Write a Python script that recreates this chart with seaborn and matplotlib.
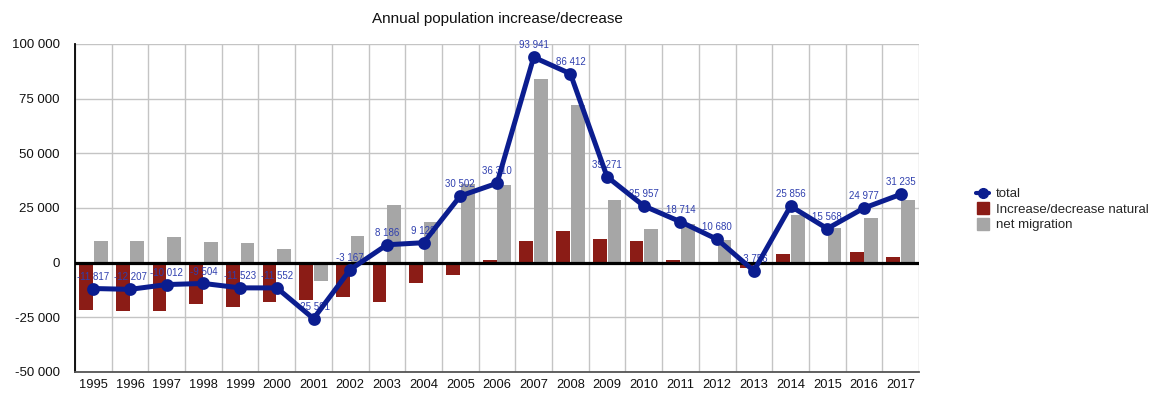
import numpy as np
import pandas as pd
import matplotlib
matplotlib.use("Agg")
import matplotlib.pyplot as plt
from matplotlib.ticker import FixedLocator, FuncFormatter
from matplotlib.lines import Line2D
import seaborn as sns

# Annual figures
years = [str(y) for y in range(1995, 2018)]
total = [-11817, -12207, -10012, -9504, -11523, -11552, -25591, -3167, 8186, 9128,
         30502, 36310, 93941, 86412, 39271, 25957, 18714, 10680, -3756, 25856,
         15568, 24977, 31235]
natural = [-21800, -22300, -21900, -19100, -20500, -17900, -17000, -15600, -18000, -9500,
           -5500, 1000, 9900, 14300, 10700, 9900, 1000, 200, -2600, 4000,
           -400, 4700, 2700]
migration = [10000, 10100, 11900, 9600, 9000, 6300, -8600, 12400, 26200, 18600,
             36000, 35300, 84000, 72100, 28500, 15400, 17700, 10500, -1200, 21800,
             16000, 20300, 28500]

series_names = ["Increase/decrease natural", "net migration"]
title = "Annual population increase/decrease"

NAVY = "#0b1d8f"
LABEL_BLUE = "#2f3fae"
RED = "#8b1c16"
GREY = "#a6a6a6"

sns.set_theme(style="white")
plt.rcParams["font.family"] = ["Liberation Sans", "DejaVu Sans"]

bars = pd.DataFrame({
    "year": years * 2,
    "value": natural + migration,
    "component": [series_names[0]] * len(years) + [series_names[1]] * len(years),
})
line = pd.DataFrame({"year": years, "total": total})

fig = plt.figure(figsize=(11.59, 3.94), dpi=100)
ax = fig.add_axes([75 / 1159, 22 / 394, 844 / 1159, 328 / 394])

sns.barplot(data=bars, x="year", y="value", hue="component", order=years,
            hue_order=series_names, palette=[RED, GREY], width=0.8, gap=0.06,
            saturation=1, legend=False, ax=ax, linewidth=0, zorder=2)

# value labels above the bars but beneath the zero line and the total line
for i, v in enumerate(total):
    ax.annotate(f"{v:,}".replace(",", " "), (i, v), xytext=(0, 8.6),
                textcoords="offset points", ha="center", va="center",
                fontsize=7, color=LABEL_BLUE, zorder=2.8)

ax.axhline(0, color="black", lw=2.3, zorder=3)

sns.pointplot(data=line, x="year", y="total", order=years, color=NAVY,
              markers="o", linestyles="-", markersize=6.5, linewidth=3.6,
              errorbar=None, ax=ax)
for coll in ax.collections:
    coll.set_zorder(5)
for ln in ax.lines[1:]:
    ln.set_zorder(4)

ax.set_xlim(-0.5, len(years) - 0.5)
ax.set_ylim(-50000, 100000)
ax.yaxis.set_major_locator(FixedLocator(np.arange(-50000, 100001, 25000)))
ax.yaxis.set_major_formatter(FuncFormatter(lambda v, p: f"{int(v):,}".replace(",", " ")))
ax.xaxis.set_minor_locator(FixedLocator(np.arange(-0.5, len(years), 1)))

ax.grid(False)
ax.grid(axis="y", which="major", color="#c4c4c4", lw=1.0, zorder=0)
ax.grid(axis="x", which="minor", color="#c4c4c4", lw=1.0, zorder=0)
ax.set_axisbelow(True)

ax.set_xlabel("")
ax.set_ylabel("")
ax.tick_params(axis="both", which="both", length=0)
ax.tick_params(axis="y", pad=11, labelsize=9.5, labelcolor="#111111")
ax.tick_params(axis="x", pad=5, labelsize=9.3, labelcolor="#111111")

for side in ["top", "right"]:
    ax.spines[side].set_visible(False)
ax.spines["left"].set_color("black")
ax.spines["left"].set_linewidth(1.3)
ax.spines["bottom"].set_color("#555555")
ax.spines["bottom"].set_linewidth(1.3)

ax.set_title(title, fontsize=11, pad=15, color="#111111")

handles = [
    Line2D([0], [0], color=NAVY, lw=3, marker="o", markersize=7),
    Line2D([0], [0], color=RED, lw=0, marker="s", markersize=9),
    Line2D([0], [0], color=GREY, lw=0, marker="s", markersize=9),
]
fig.legend(handles, ["total"] + series_names, loc="upper left",
           bbox_to_anchor=(976 / 1159, 1 - 188 / 394), frameon=False,
           fontsize=9.5, handlelength=1.0, handletextpad=0.5, labelspacing=0.25,
           borderpad=0, borderaxespad=0)

fig.savefig("out.png", dpi=100)
